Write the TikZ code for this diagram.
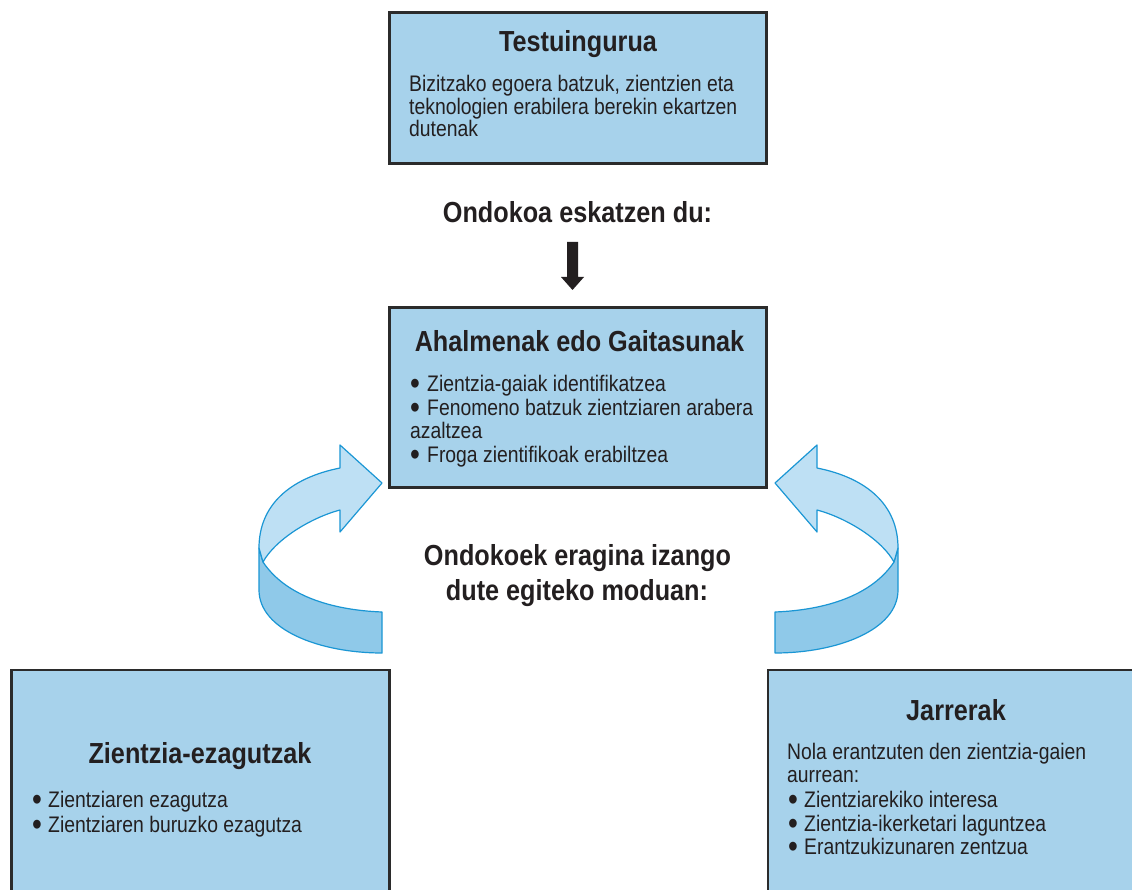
\documentclass[tikz,border=0pt]{standalone}
\usepackage{fontspec}
\setmainfont{Liberation Sans}
\newfontfamily\bodyf{Liberation Sans}[FakeStretch=0.86]
\newfontfamily\headf{Liberation Sans}[FakeStretch=0.87]
\definecolor{boxfill}{HTML}{A7D2EB}
\definecolor{boxline}{HTML}{2B2B2B}
\definecolor{ink}{HTML}{231F20}
\definecolor{arrlight}{HTML}{BEE0F4}
\definecolor{arrdark}{HTML}{8FC9E9}
\definecolor{arrline}{HTML}{1A96D4}
\newcommand{\bul}[1]{\makebox[#1][l]{\smash{\raisebox{-3.6pt}{\scalebox{1.45}{•}}}}}
\newcommand{\ribbonshape}{%
    \path[ribbon, fill=arrdark] (259,548) -- (259,590) .. controls (259,630) and (320,653) .. (382,653)
      -- (382,612) .. controls (330,610) and (285,595) .. (263,562) -- cycle;
    \path[ribbon, fill=arrlight] (259,548) .. controls (259,505) and (290,478) .. (340,468)
      -- (340,445) -- (382,483) -- (340,532) -- (340,510)
      .. controls (310,518) and (275,540) .. (263,562) -- cycle;
}
\begin{document}
\begin{tikzpicture}[x=1pt,y=-1pt,
  box/.style={draw=boxline, line width=2.6pt, fill=boxfill, inner sep=0, rectangle},
  head/.style={font=\headf\bfseries\fontsize{29}{32}\selectfont, text=ink, inner sep=0, anchor=base},
  body/.style={font=\bodyf\fontsize{22.5}{24}\selectfont, text=ink, inner sep=0, anchor=base west},
  ribbon/.style={draw=arrline, line width=1.2pt, line join=round}
]
\useasboundingbox (0,0) rectangle (1132,890);
\clip (0,0) rectangle (1132,890);
\fill[white] (0,0) rectangle (1132,890);

% boxes
\node[box, minimum width=377pt, minimum height=151pt] (ctx) at (578,88) {};
\node[box, minimum width=377pt, minimum height=180pt] (cap) at (578,397.5) {};
\node[box, minimum width=378pt, minimum height=240pt] (know) at (200.5,790) {};
\node[box, minimum width=380pt, minimum height=240pt] (att) at (958,790) {};

% top box text
\node[head] (ctxT) at (578,52) {Testuingurua};
\node[body] (ctx1) at (409,92) {Bizitzako egoera batzuk, zientzien eta};
\node[body] (ctx2) at (409,115) {teknologien erabilera berekin ekartzen};
\node[body] (ctx3) at (409,137) {dutenak};

% label 1 and down arrow
\node[head] (lab1) at (577.5,223) {Ondokoa eskatzen du:};
\fill[ink] (567,242) -- (578,242) -- (578,277) -- (584,277) -- (572.5,290) -- (561,277) -- (567,277) -- cycle;

% middle box text
\node[head] (capT) at (579.5,352) {Ahalmenak edo Gaitasunak};
\node[body] (cap1) at (410,391) {\bul{17pt}Zientzia-gaiak identifikatzea};
\node[body] (cap2) at (410,415) {\bul{17pt}Fenomeno batzuk zientziaren arabera};
\node[body] (cap3) at (410,438) {azaltzea};
\node[body] (cap4) at (410,462) {\bul{17pt}Froga zientifikoak erabiltzea};

% label 2
\node[head] (lab2a) at (577.5,565) {Ondokoek eragina izango};
\node[head] (lab2b) at (577,600) {dute egiteko moduan:};

% curved arrows
\begin{scope}
  \ribbonshape
\end{scope}
\begin{scope}[shift={(1157,0)}, xscale=-1]
  \ribbonshape
\end{scope}

% bottom left text
\node[head] (knowT) at (200,763) {Zientzia-ezagutzak};
\node[body] (know1) at (32,807) {\bul{16pt}Zientziaren ezagutza};
\node[body] (know2) at (32,832) {\bul{16pt}Zientziaren buruzko ezagutza};

% bottom right text
\node[head] (attT) at (956,720) {Jarrerak};
\node[body] (att1) at (787,759) {Nola erantzuten den zientzia-gaien};
\node[body] (att2) at (787,782) {aurrean:};
\node[body] (att3) at (788,807) {\bul{16pt}Zientziarekiko interesa};
\node[body] (att4) at (788,831) {\bul{16pt}Zientzia-ikerketari laguntzea};
\node[body] (att5) at (788,854) {\bul{16pt}Erantzukizunaren zentzua};
\end{tikzpicture}
\end{document}
